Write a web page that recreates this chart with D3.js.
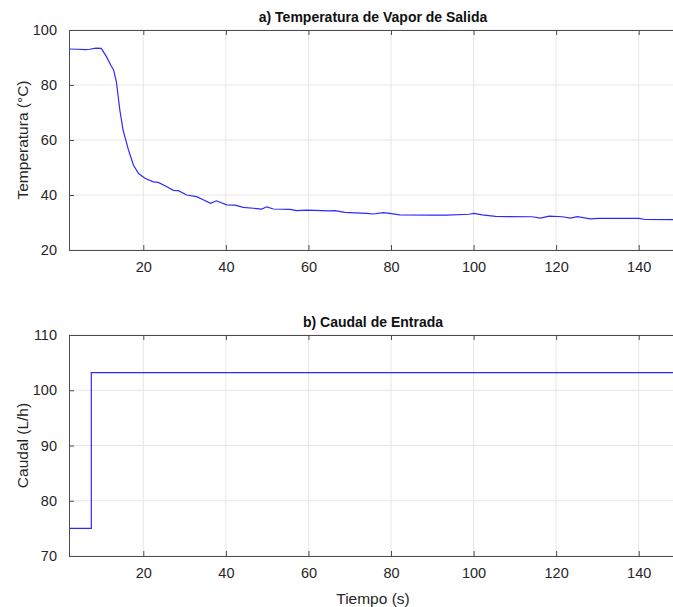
<!DOCTYPE html>
<html>
<head>
<meta charset="utf-8">
<script src="https://cdn.jsdelivr.net/npm/d3@7"></script>
<style>
  body { margin: 0; background: #fff; }
  svg { display: block; font-family: "Liberation Sans", Arial, sans-serif; }
</style>
</head>
<body>
<svg id="chart" width="673" height="607"></svg>
<script>
// a) Temperatura de vapor de salida
const timeTemp = [2, 4, 6, 7, 8.5, 9.8, 11, 12.2, 12.8, 13.5, 14.3, 15.1, 16.4, 17.6, 18.8, 20.4, 22.4, 23.6, 25.5, 27.3,
  28.5, 30.5, 32.9, 34.5, 36.3, 37.7, 40.2, 42.2, 44.2, 48.7, 49.9, 51.5, 55.5, 57.2, 59.6, 65.2, 66.4, 68.8, 74.1, 75.7,
  78.1, 79.7, 82.1, 90, 93.4, 98.9, 100.1, 102.1, 105.3, 114.2, 116.2, 118.3, 121.5, 123.5, 125.1, 128.3, 130.4, 140, 141.6, 150];
const temp = [93.1, 93.0, 92.9, 93.0, 93.4, 93.3, 90.5, 87, 85.5, 81, 71, 63.6, 56.4, 50.9, 47.9, 46.1, 44.8, 44.6, 43.2, 41.7,
  41.6, 40.0, 39.4, 38.3, 37.0, 37.9, 36.4, 36.3, 35.5, 34.9, 35.7, 34.9, 34.8, 34.3, 34.5, 34.2, 34.3, 33.7, 33.3, 33.1,
  33.6, 33.3, 32.8, 32.7, 32.7, 33.0, 33.3, 32.8, 32.2, 32.1, 31.6, 32.3, 32.1, 31.6, 32.1, 31.3, 31.5, 31.5, 31.1, 31.0];

// b) Caudal de entrada (escalón)
const timeFlow = [2, 7.4, 150];
const flow = [75, 103.2, 103.2];

const xTicks = [20, 40, 60, 80, 100, 120, 140];
const tempTicks = [20, 40, 60, 80, 100];
const flowTicks = [70, 80, 90, 100, 110];

const svg = d3.select("#chart");
const left = 69, right = 680;

const x = d3.scaleLinear().domain([2, 150]).range([left, right]);

const panels = [
  { title: "a) Temperatura de Vapor de Salida", ylabel: "Temperatura (°C)", top: 30, bottom: 250,
    domain: [20, 100], ticks: tempTicks, xs: timeTemp, ys: temp, curve: d3.curveLinear, xlabel: null },
  { title: "b) Caudal de Entrada", ylabel: "Caudal (L/h)", top: 335, bottom: 556,
    domain: [70, 110], ticks: flowTicks, xs: timeFlow, ys: flow, curve: d3.curveStepAfter, xlabel: "Tiempo (s)" }
];

panels.forEach((p, i) => {
  const y = d3.scaleLinear().domain(p.domain).range([p.bottom, p.top]);
  const g = svg.append("g");

  // grid
  g.selectAll(".gx").data(xTicks).enter().append("line")
    .attr("x1", d => x(d)).attr("x2", d => x(d))
    .attr("y1", p.top).attr("y2", p.bottom)
    .attr("stroke", "#e6e6e6").attr("stroke-width", 1);
  g.selectAll(".gy").data(p.ticks).enter().append("line")
    .attr("x1", left).attr("x2", right)
    .attr("y1", d => y(d)).attr("y2", d => y(d))
    .attr("stroke", "#e6e6e6").attr("stroke-width", 1);

  // data line
  const clipId = "clip" + i;
  svg.append("clipPath").attr("id", clipId).append("rect")
    .attr("x", left).attr("y", p.top).attr("width", right - left).attr("height", p.bottom - p.top);

  const line = d3.line()
    .x((d, k) => x(p.xs[k]))
    .y(d => y(d))
    .curve(p.curve);

  g.append("path")
    .datum(p.ys)
    .attr("clip-path", `url(#${clipId})`)
    .attr("fill", "none")
    .attr("stroke", "#2a2aff")
    .attr("stroke-width", 1.2)
    .attr("d", line);

  // axes (box on, ticks inside)
  g.append("g")
    .attr("transform", `translate(0,${p.bottom})`)
    .call(d3.axisBottom(x).tickValues(xTicks).tickSizeInner(-5).tickSizeOuter(0).tickPadding(12))
    .call(a => a.selectAll("text").style("font-size", "14.5px").attr("fill", "#262626"));
  g.append("g")
    .attr("transform", `translate(0,${p.top})`)
    .call(d3.axisTop(x).tickValues(xTicks).tickSizeInner(-5).tickSizeOuter(0).tickFormat(""));
  g.append("g")
    .attr("transform", `translate(${left},0)`)
    .call(d3.axisLeft(y).tickValues(p.ticks).tickSizeInner(-5).tickSizeOuter(0).tickPadding(12))
    .call(a => a.selectAll("text").style("font-size", "14.5px").attr("fill", "#262626"));

  g.selectAll(".domain, .tick line").attr("stroke", "#4d4d4d");

  // titles
  g.append("text")
    .attr("x", 373).attr("y", p.top - 8)
    .attr("text-anchor", "middle")
    .attr("font-weight", "bold")
    .attr("font-size", "14px")
    .attr("fill", "#111")
    .text(p.title);

  g.append("text")
    .attr("transform", `translate(28,${(p.top + p.bottom) / 2}) rotate(-90)`)
    .attr("text-anchor", "middle")
    .attr("font-size", "15.5px")
    .attr("fill", "#262626")
    .text(p.ylabel);

  if (p.xlabel) {
    g.append("text")
      .attr("x", 373).attr("y", p.bottom + 48)
      .attr("text-anchor", "middle")
      .attr("font-size", "15.5px")
      .attr("fill", "#262626")
      .text(p.xlabel);
  }
});
</script>
</body>
</html>
